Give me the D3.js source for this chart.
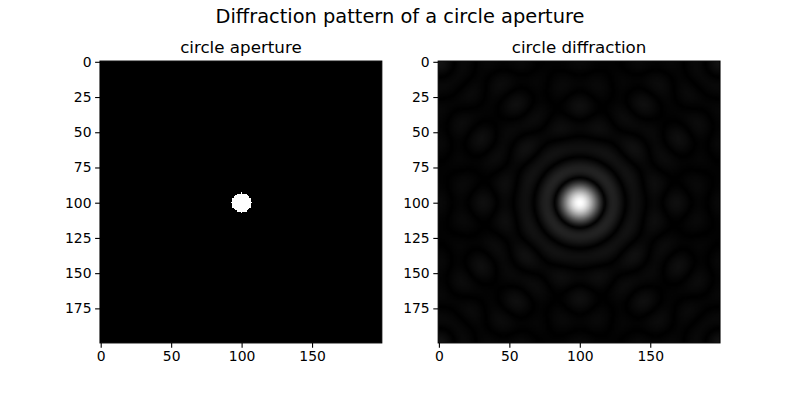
<!DOCTYPE html>
<html>
<head>
<meta charset="utf-8">
<script src="https://cdn.jsdelivr.net/npm/d3@7"></script>
<style>
  body { margin: 0; background: #fff; }
  svg { font-family: "DejaVu Sans", sans-serif; }
</style>
</head>
<body>
<div class="chart"></div>
<script>
"use strict";

// image grid and aperture
var gridSize = 200;
var apertureCenter = [100, 100];
// half width (in pixels) of the white run for rows 0..7 away from the centre row
var apertureHalfWidths = [7, 6, 6, 6, 5, 4, 3, 0];

var xTicks = [0, 50, 100, 150];
var yTicks = [0, 25, 50, 75, 100, 125, 150, 175];
var panelTitles = ["circle aperture", "circle diffraction"];
var figTitle = "Diffraction pattern of a circle aperture";

var width = 800, height = 400;

// aperture grid
var aperture = [];
for (var r = 0; r < gridSize; r++) {
    aperture.push(new Float64Array(gridSize));
}
apertureHalfWidths.forEach(function(hw, dy) {
    [apertureCenter[1] - dy, apertureCenter[1] + dy].forEach(function(row) {
        for (var c = apertureCenter[0] - hw; c <= apertureCenter[0] + hw; c++) {
            aperture[row][c] = 1;
        }
    });
});

// 2D DFT of the aperture, shifted so the zero frequency sits in the middle
function diffraction(a) {
    var N = a.length;
    var cs = new Float64Array(N), sn = new Float64Array(N);
    for (var k = 0; k < N; k++) {
        cs[k] = Math.cos(2 * Math.PI * k / N);
        sn[k] = -Math.sin(2 * Math.PI * k / N);
    }
    var rows = [];
    for (var y = 0; y < N; y++) {
        var has = false;
        for (var x = 0; x < N; x++) if (a[y][x]) { has = true; break; }
        if (!has) continue;
        var re = new Float64Array(N), im = new Float64Array(N);
        for (var u = 0; u < N; u++) {
            var sr = 0, si = 0;
            for (var x2 = 0; x2 < N; x2++) {
                if (!a[y][x2]) continue;
                var idx = (u * x2) % N;
                sr += a[y][x2] * cs[idx];
                si += a[y][x2] * sn[idx];
            }
            re[u] = sr; im[u] = si;
        }
        rows.push({y: y, re: re, im: im});
    }
    var out = [];
    for (var v = 0; v < N; v++) {
        var line = new Float64Array(N);
        var vs = (v + N / 2) % N;
        for (var u2 = 0; u2 < N; u2++) {
            var us = (u2 + N / 2) % N;
            var fr = 0, fi = 0;
            rows.forEach(function(rw) {
                var idx = (vs * rw.y) % N;
                var c = cs[idx], s = sn[idx];
                fr += rw.re[us] * c - rw.im[us] * s;
                fi += rw.re[us] * s + rw.im[us] * c;
            });
            line[u2] = Math.sqrt(fr * fr + fi * fi);
        }
        out.push(line);
    }
    return out;
}

var pattern = diffraction(aperture);

var svg = d3.select(".chart")
    .append("svg")
    .attr("width", width)
    .attr("height", height);

svg.append("text")
    .attr("x", 400)
    .attr("y", 23)
    .attr("text-anchor", "middle")
    .style("font-size", "19.4px")
    .text(figTitle);

var y = d3.scaleLinear().domain([-0.5, gridSize - 0.5]).range([61.1, 342.9]);
var xs = [
    d3.scaleLinear().domain([-0.5, gridSize - 0.5]).range([100, 381.8]),
    d3.scaleLinear().domain([-0.5, gridSize - 0.5]).range([438.2, 720])
];

function toImage(grid, smooth) {
    var flat = [];
    grid.forEach(function(row) { row.forEach(function(v) { flat.push(v); }); });
    var color = d3.scaleLinear()
        .domain(d3.extent(flat))
        .range(["#000000", "#ffffff"]);
    var canvas = document.createElement("canvas");
    canvas.width = gridSize;
    canvas.height = gridSize;
    var ctx = canvas.getContext("2d");
    var img = ctx.createImageData(gridSize, gridSize);
    grid.forEach(function(row, i) {
        row.forEach(function(v, j) {
            var c = d3.rgb(color(v));
            var p = (i * gridSize + j) * 4;
            img.data[p] = c.r;
            img.data[p + 1] = c.g;
            img.data[p + 2] = c.b;
            img.data[p + 3] = 255;
        });
    });
    ctx.putImageData(img, 0, 0);
    return canvas.toDataURL();
}

var grids = [aperture, pattern];

grids.forEach(function(grid, k) {
    var x = xs[k];
    var g = svg.append("g").attr("class", "panel");

    g.append("image")
        .attr("href", toImage(grid))
        .attr("x", x(-0.5))
        .attr("y", y(-0.5))
        .attr("width", x(gridSize - 0.5) - x(-0.5))
        .attr("height", y(gridSize - 0.5) - y(-0.5))
        .attr("preserveAspectRatio", "none")
        .style("image-rendering", k === 0 ? "pixelated" : "auto");

    var xAxis = d3.axisBottom(x).tickValues(xTicks).tickSize(4.9).tickPadding(3.6).tickSizeOuter(0);
    var yAxis = d3.axisLeft(y).tickValues(yTicks).tickSize(4.9).tickPadding(3.6).tickSizeOuter(0);

    var gx = g.append("g")
        .attr("transform", "translate(0," + y(gridSize - 0.5) + ")")
        .call(xAxis);
    var gy = g.append("g")
        .attr("transform", "translate(" + x(-0.5) + ",0)")
        .call(yAxis);
    [gx, gy].forEach(function(ax) {
        ax.select(".domain").remove();
        ax.selectAll("line").attr("stroke", "#000").attr("stroke-width", 1.1);
        ax.selectAll("text").attr("fill", "#000").style("font-size", "13.9px").attr("font-family", "DejaVu Sans");
    });

    // spines
    g.append("rect")
        .attr("x", x(-0.5))
        .attr("y", y(-0.5))
        .attr("width", x(gridSize - 0.5) - x(-0.5))
        .attr("height", y(gridSize - 0.5) - y(-0.5))
        .attr("fill", "none")
        .attr("stroke", "#000")
        .attr("stroke-width", 1.1);

    g.append("text")
        .attr("x", (x(-0.5) + x(gridSize - 0.5)) / 2)
        .attr("y", y(-0.5) - 8.3)
        .attr("text-anchor", "middle")
        .style("font-size", "16.7px")
        .text(panelTitles[k]);
});
</script>
</body>
</html>
